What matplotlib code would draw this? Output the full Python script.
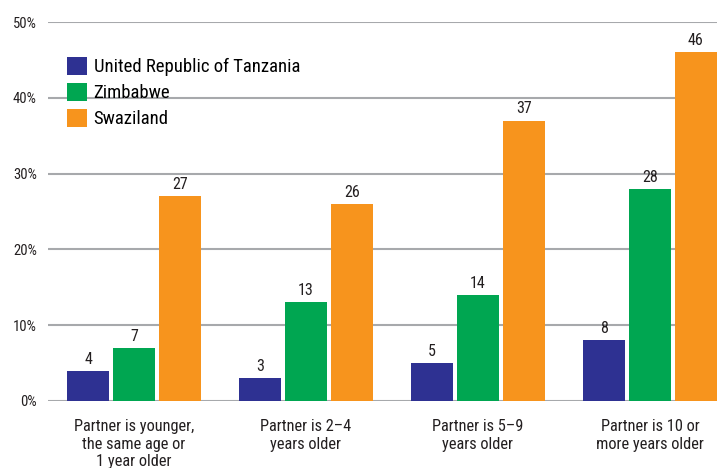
import matplotlib
matplotlib.use("Agg")
import matplotlib.pyplot as plt
from matplotlib.patches import Rectangle
import numpy as np

plt.rcParams['font.family'] = ['Roboto Condensed', 'DejaVu Sans']

categories = [
    "Partner is younger,\nthe same age or\n1 year older",
    "Partner is 2\u20134\nyears older",
    "Partner is 5\u20139\nyears older",
    "Partner is 10 or\nmore years older",
]
series_names = ["United Republic of Tanzania", "Zimbabwe", "Swaziland"]
tanzania = [4, 3, 5, 8]
zimbabwe = [7, 13, 14, 28]
swaziland = [27, 26, 37, 46]
colors = ["#2e3192", "#00a651", "#f7941d"]
yticks = [0, 10, 20, 30, 40, 50]
text_color = '#231f20'

fig = plt.figure(figsize=(7.17, 4.68), dpi=100)
ax = fig.add_axes([48 / 717, 1 - 401 / 468, 1 - 48 / 717, 379 / 468])

x = np.arange(len(categories))
width = 0.244
step = 0.2674

for i, (vals, name, col) in enumerate(zip([tanzania, zimbabwe, swaziland], series_names, colors)):
    pos = x + (i - 1) * step
    ax.bar(pos, vals, width=width, color=col, label=name, zorder=3)
    for px, v in zip(pos, vals):
        ax.text(px, v + 0.55, str(v), ha='center', va='bottom', fontsize=11.5,
                color=text_color, zorder=4)

ax.set_xlim(-0.5, 3.39)
ax.set_ylim(0, 50)
ax.set_yticks(yticks)
ax.set_yticklabels([f"{t}%" for t in yticks], fontsize=10.5, color=text_color)
ax.yaxis.grid(True, color='#a7a9ac', linewidth=1.5, zorder=0)
ax.set_xticks(x)
ax.set_xticklabels(categories, fontsize=11.8, color=text_color, linespacing=1.22)
ax.tick_params(axis='y', length=0, pad=8)
ax.tick_params(axis='x', length=0, pad=13)
for s in ax.spines.values():
    s.set_visible(False)

# white block behind the legend hiding part of the 40% gridline
ax.add_patch(Rectangle((0, 0.72), (194 - 48) / 669, 0.16, transform=ax.transAxes,
                       facecolor='white', edgecolor='none', zorder=1))

ax.legend(loc='upper left', bbox_to_anchor=(0.0284, 0.908), frameon=False, fontsize=13.5,
          handlelength=1.07, handleheight=1.07, handletextpad=0.35, labelspacing=0.37,
          borderpad=0, borderaxespad=0)

plt.savefig("out.png", dpi=100)
